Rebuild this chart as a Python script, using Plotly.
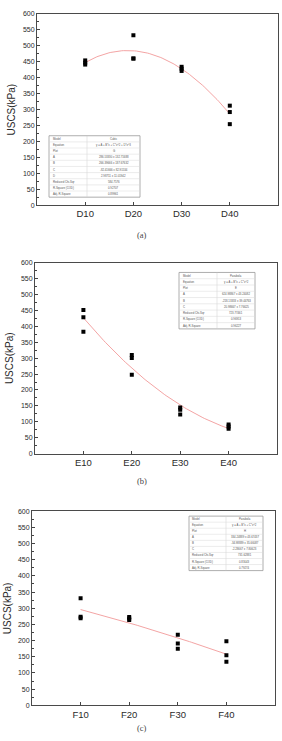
import numpy as np
import plotly.graph_objects as go

W, H = 282, 741

# ---------------- data ----------------
cats_a = ["D10", "D20", "D30", "D40"]
cats_b = ["E10", "E20", "E30", "E40"]
cats_c = ["F10", "F20", "F30", "F40"]

vals_a = [[454, 447, 441], [533, 460, 460], [434, 428, 421], [312, 292, 254]]
vals_b = [[451, 428, 383], [310, 300, 248], [145, 138, 123], [92, 85, 78]]
vals_c = [[331, 274, 269], [273, 268, 264], [218, 191, 175], [198, 155, 135]]

fit_deg = [3, 2, 2]

y_ticks = [0, 50, 100, 150, 200, 250, 300, 350, 400, 450, 500, 550, 600]

table_a = [["Model", "Cubic"],
           ["Equation", "y = A + B*x + C*x^2 + D*x^3"],
           ["Plot", "G"],
           ["A", "286.53330 \u00b1 132.71688"],
           ["B", "266.39666 \u00b1 187.67632"],
           ["C", "-82.41666 \u00b1 82.91534"],
           ["D", "2.98711 \u00b1 11.01942"],
           ["Reduced Chi-Sqr", "584.7576"],
           ["R-Square (COD)", "0.92707"],
           ["Adj. R-Square", "0.89961"]]
table_b = [["Model", "Parabola"],
           ["Equation", "y = A + B*x + C*x^2"],
           ["Plot", "E"],
           ["A", "624.98867 \u00b1 43.24082"],
           ["B", "-218.13333 \u00b1 39.44763"],
           ["C", "20.98667 \u00b1 7.76625"],
           ["Reduced Chi-Sqr", "723.77461"],
           ["R-Square (COD)", "0.96913"],
           ["Adj. R-Square", "0.96227"]]
table_c = [["Model", "Parabola"],
           ["Equation", "y = A + B*x + C*x^2"],
           ["Plot", "H"],
           ["A", "334.24889 \u00b1 43.67437"],
           ["B", "-34.98889 \u00b1 35.66087"],
           ["C", "-2.28667 \u00b1 7.80623"],
           ["Reduced Chi-Sqr", "731.62881"],
           ["R-Square (COD)", "0.83043"],
           ["Adj. R-Square", "0.79274"]]

panel_labels = ["(a)", "(b)", "(c)"]

# ---------------- layout geometry (pixels) ----------------
panels = [
    dict(x0=37, x1=278, y0=10, y1=203, ytitle_x=11, lab_y=233,
         tbl=(49, 140, 133, 195, 87)),
    dict(x0=35, x1=277, y0=261, y1=454, ytitle_x=9, lab_y=482,
         tbl=(179, 255, 271, 328, 217)),
    dict(x0=32, x1=275, y0=512, y1=708, ytitle_x=7, lab_y=731,
         tbl=(189, 263, 517, 572, 226)),
]


def PX(px):
    return px / W


def PY(py):
    return 1 - py / H


fig = go.Figure()
shapes = []
annotations = []

all_cats = [cats_a, cats_b, cats_c]
all_vals = [vals_a, vals_b, vals_c]
all_tables = [table_a, table_b, table_c]

txt_col = "#2a2a2a"
font_fam = "Liberation Sans, Arial, sans-serif"

for i in range(3):
    p = panels[i]
    cats = all_cats[i]
    vals = all_vals[i]
    sfx = "" if i == 0 else str(i + 1)
    xs, ys = [], []
    for k, group in enumerate(vals):
        for v in group:
            xs.append(k + 1)
            ys.append(v)
    coef = np.polyfit(xs, ys, fit_deg[i])
    gx = np.linspace(1, 4, 80)
    gy = np.polyval(coef, gx)
    fig.add_trace(go.Scatter(x=gx, y=gy, mode="lines",
                             line=dict(color="#f29a9a", width=0.9),
                             xaxis="x" + sfx, yaxis="y" + sfx,
                             showlegend=False, hoverinfo="skip"))
    fig.add_trace(go.Scatter(x=xs, y=ys, mode="markers",
                             marker=dict(symbol="square", size=4, color="black",
                                         line=dict(width=0)),
                             xaxis="x" + sfx, yaxis="y" + sfx,
                             showlegend=False))

    xa = dict(domain=[PX(p["x0"]), PX(p["x1"])], range=[0, 5],
              anchor="y" + sfx, tickmode="array", tickvals=[1, 2, 3, 4],
              ticktext=cats, ticks="inside", ticklen=3, tickwidth=1,
              tickcolor="#444", showline=True, linecolor="#4a4a4a", linewidth=1,
              mirror=True, showgrid=False, zeroline=False,
              tickfont=dict(family=font_fam, size=9.5, color=txt_col))
    ya = dict(domain=[PY(p["y1"]), PY(p["y0"])], range=[0, 600],
              anchor="x" + sfx, tickmode="array", tickvals=y_ticks,
              ticks="inside", ticklen=3, tickwidth=1, tickcolor="#444",
              minor=dict(ticks="inside", ticklen=2, tickcolor="#444",
                         tickmode="array", tickvals=[25 + 50 * j for j in range(12)]),
              showline=True, linecolor="#4a4a4a", linewidth=1, mirror=True,
              showgrid=False, zeroline=False,
              tickfont=dict(family=font_fam, size=7, color=txt_col))
    fig.update_layout(**{"xaxis" + sfx: xa, "yaxis" + sfx: ya})

    # y-axis title
    annotations.append(dict(text="USCS(kPa)", x=PX(p["ytitle_x"]),
                            y=PY((p["y0"] + p["y1"]) / 2), xref="paper", yref="paper",
                            showarrow=False, textangle=-90, xanchor="center",
                            yanchor="middle",
                            font=dict(family=font_fam, size=10, color=txt_col)))
    # panel label
    annotations.append(dict(text=panel_labels[i], x=PX(142), y=PY(p["lab_y"]),
                            xref="paper", yref="paper", showarrow=False,
                            xanchor="center", yanchor="middle",
                            font=dict(family="Liberation Serif, Times New Roman, serif",
                                      size=8.5, color="#444")))

    # fit-result table
    tx0, tx1, ty0, ty1, tsplit = p["tbl"]
    rows = all_tables[i]
    n = len(rows)
    rh = (ty1 - ty0) / n
    shapes.append(dict(type="rect", xref="paper", yref="paper",
                       x0=PX(tx0), x1=PX(tx1), y0=PY(ty1), y1=PY(ty0),
                       fillcolor="white", line=dict(color="#999", width=0.8),
                       layer="above"))
    shapes.append(dict(type="line", xref="paper", yref="paper",
                       x0=PX(tsplit), x1=PX(tsplit), y0=PY(ty1), y1=PY(ty0),
                       line=dict(color="#cfcfcf", width=0.5), layer="above"))
    for r in range(1, n):
        yy = ty0 + r * rh
        shapes.append(dict(type="line", xref="paper", yref="paper",
                           x0=PX(tx0), x1=PX(tx1), y0=PY(yy), y1=PY(yy),
                           line=dict(color="#d8d8d8", width=0.5), layer="above"))
    for r, (k, v) in enumerate(rows):
        yc = ty0 + (r + 0.5) * rh
        annotations.append(dict(text=k, x=PX(tx0 + 1.5), y=PY(yc), xref="paper",
                                yref="paper", showarrow=False, xanchor="left",
                                yanchor="middle",
                                font=dict(family=font_fam, size=2.8, color="#555")))
        annotations.append(dict(text=v, x=PX((tsplit + tx1) / 2), y=PY(yc),
                                xref="paper", yref="paper", showarrow=False,
                                xanchor="center", yanchor="middle",
                                font=dict(family=font_fam, size=2.8, color="#555")))

fig.update_layout(width=W, height=H, margin=dict(l=0, r=0, t=0, b=0),
                  paper_bgcolor="white", plot_bgcolor="white",
                  shapes=shapes, annotations=annotations, showlegend=False)

fig.write_html("out.html")
